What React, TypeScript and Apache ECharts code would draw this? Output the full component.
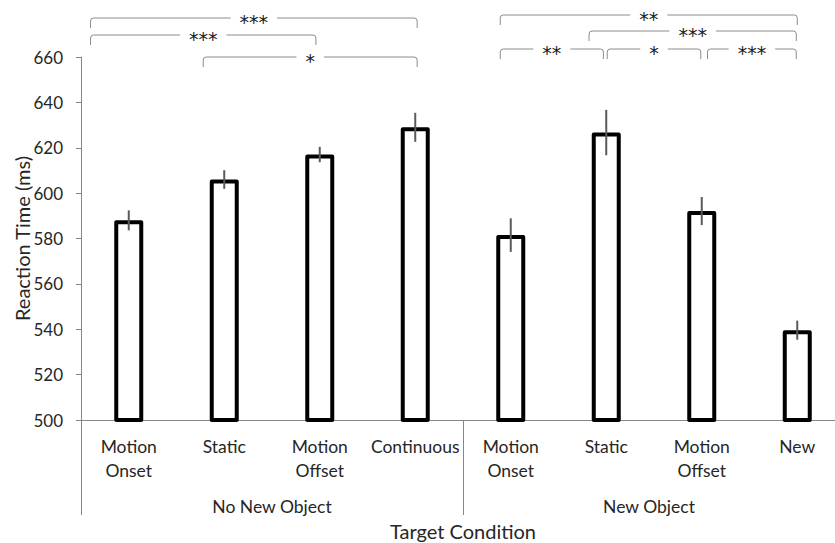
import React, { useEffect, useRef } from 'react';
import * as echarts from 'echarts';

// ---- data ----
const categories = ['Motion\nOnset', 'Static', 'Motion\nOffset', 'Continuous', 'Motion\nOnset', 'Static', 'Motion\nOffset', 'New'];
const groups = ['No New Object', 'New Object'];
const meanRT = [588, 606, 617, 629, 581.5, 626.7, 592.1, 539.6];
const errorRT = [4.4, 4.1, 3.4, 6.4, 7.4, 10, 6.2, 4.2];
const yMin = 500;
const yMax = 660;
const yStep = 20;
// significance comparisons: from/to as category positions
const compFrom = [-0.4, -0.4, 0.78, 3.89, 4.82, 3.89, 5.01, 6.06];
const compTo = [3.02, 1.96, 3.02, 7.0, 6.99, 4.97, 5.99, 6.99];
const compLabel = ['***', '***', '*', '**', '***', '**', '*', '***'];
const compRow = [0, 1, 2, 0, 1, 2, 2, 2];

// ---- layout ----
const W = 835;
const H = 543;
const CANVAS_W = 850; // plot area runs past the visible page edge, as in the reference
const GRID_LEFT = 81;
const GRID_TOP = 57;
const GRID_W = 764;
const GRID_H = 363;
const CAT_W = GRID_W / categories.length;
const FONT = 'Lato';
const rowYLeft = [18, 35, 57];
const rowYRight = [15, 31, 49];

echarts.graphic.registerShape(
  'sigBracket',
  echarts.graphic.extendShape({
    shape: { x1: 0, x2: 0, y: 0, h: 10 },
    buildPath(ctx: any, s: any) {
      const r = 3;
      ctx.moveTo(s.x1, s.y + s.h);
      ctx.lineTo(s.x1, s.y + r);
      ctx.quadraticCurveTo(s.x1, s.y, s.x1 + r, s.y);
      ctx.lineTo(s.x2 - r, s.y);
      ctx.quadraticCurveTo(s.x2, s.y, s.x2, s.y + r);
      ctx.lineTo(s.x2, s.y + s.h);
    },
  }) as any
);

const catX = (pos: number) => GRID_LEFT + CAT_W * (pos + 0.5);

export default function App() {
  const ref = useRef<HTMLDivElement>(null);
  useEffect(() => {
    document.body.style.margin = '0';
    document.body.style.overflow = 'hidden';
    document.documentElement.style.overflow = 'hidden';
    if (!ref.current) return;
    const chart = echarts.init(ref.current, null, { renderer: 'svg' });

    const graphics: any[] = [];
    compLabel.forEach((lab, i) => {
      const x1 = catX(compFrom[i]);
      const x2 = catX(compTo[i]);
      const y = (compFrom[i] < 3.5 ? rowYLeft : rowYRight)[compRow[i]];
      graphics.push({
        type: 'sigBracket',
        shape: { x1, x2, y, h: 10 },
        style: { stroke: '#8c8c8c', lineWidth: 1, fill: null },
        z: 10,
      });
      graphics.push({
        type: 'text',
        x: (x1 + x2) / 2,
        y: y + 4,
        style: {
          text: lab,
          font: '19px "DejaVu Sans"',
          fill: '#1a1a1a',
          align: 'center',
          verticalAlign: 'middle',
          backgroundColor: '#fff',
          padding: [0, 9],
        },
        z: 11,
      });
    });
    // group labels
    graphics.push({
      type: 'text',
      x: (GRID_LEFT + catX(3.5)) / 2,
      y: 506,
      style: { text: groups[0], font: `17.5px ${FONT}`, fill: '#262626', align: 'center', verticalAlign: 'middle' },
    });
    graphics.push({
      type: 'text',
      x: (catX(3.5) + W) / 2,
      y: 506,
      style: { text: groups[1], font: `17.5px ${FONT}`, fill: '#262626', align: 'center', verticalAlign: 'middle' },
    });
    graphics.push({
      type: 'text',
      x: catX(3.5),
      y: 531,
      style: { text: 'Target Condition', font: `20px ${FONT}`, fill: '#262626', align: 'center', verticalAlign: 'middle' },
    });

    chart.setOption({
      animation: false,
      backgroundColor: '#fff',
      grid: { left: GRID_LEFT, top: GRID_TOP, width: GRID_W, height: GRID_H, containLabel: false, outerBoundsMode: 'none' },
      xAxis: [
        {
          type: 'category',
          data: categories,
          position: 'bottom',
          axisLine: { lineStyle: { color: '#868686', width: 1 } },
          axisTick: { show: false },
          axisLabel: {
            interval: 0,
            margin: 14,
            fontFamily: FONT,
            fontSize: 17.5,
            lineHeight: 24,
            color: '#262626',
          },
        },
        {
          type: 'category',
          data: groups,
          position: 'bottom',
          axisLine: { show: false },
          axisTick: { show: true, length: 95, interval: 0, lineStyle: { color: '#868686', width: 1 } },
          axisLabel: { show: false },
        },
      ],
      yAxis: {
        type: 'value',
        min: yMin,
        max: yMax,
        interval: yStep,
        name: 'Reaction Time (ms)',
        nameLocation: 'middle',
        nameGap: 49,
        nameMoveOverlap: false,
        nameTextStyle: { fontFamily: FONT, fontSize: 20, color: '#262626' },
        axisLine: { show: true, lineStyle: { color: '#868686', width: 1 } },
        axisTick: { show: true, length: 5, lineStyle: { color: '#868686' } },
        splitLine: { show: false },
        axisLabel: { margin: 18, fontFamily: FONT, fontSize: 17, color: '#262626' },
      },
      series: [
        {
          type: 'bar',
          data: meanRT,
          barWidth: 29,
          itemStyle: { color: '#fff', borderColor: '#000', borderWidth: 4, borderJoin: 'round' },
          z: 2,
        },
        {
          type: 'custom',
          data: meanRT.map((m, i) => [i, m - errorRT[i], m + errorRT[i]]),
          renderItem: (params: any, api: any) => {
            const lo = api.coord([api.value(0), api.value(1)]);
            const hi = api.coord([api.value(0), api.value(2)]);
            return {
              type: 'line',
              shape: { x1: lo[0], y1: lo[1], x2: hi[0], y2: hi[1] },
              style: { stroke: '#5a5a5a', lineWidth: 2 },
            };
          },
          z: 5,
        },
      ],
      graphic: graphics,
    });
    return () => chart.dispose();
  }, []);
  return <div ref={ref} style={{ width: CANVAS_W, height: H }} />;
}
